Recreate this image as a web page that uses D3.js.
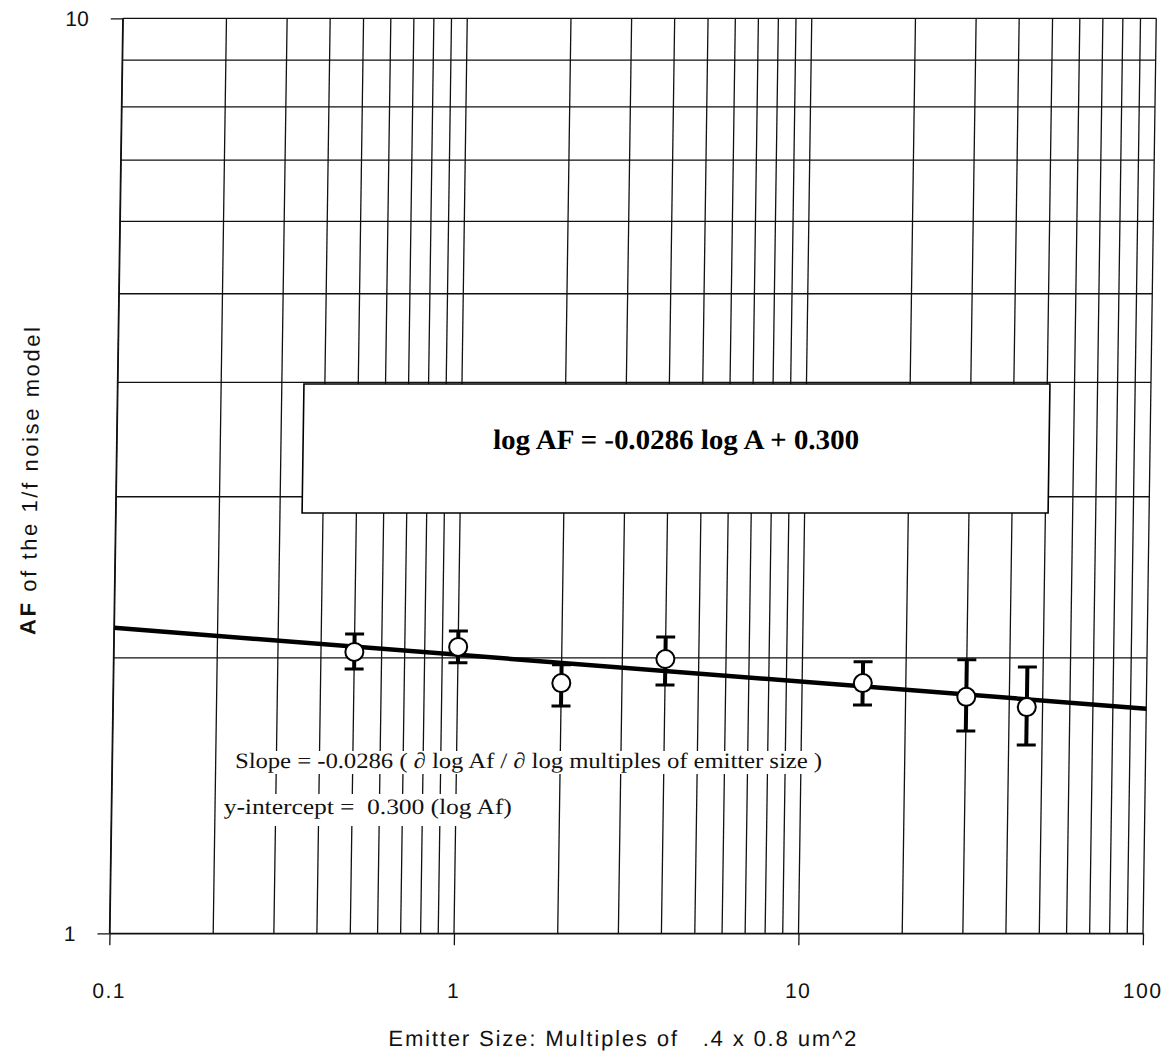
<!DOCTYPE html>
<html>
<head>
<meta charset="utf-8">
<script src="https://cdn.jsdelivr.net/npm/d3@7"></script>
<style>
  html, body { margin: 0; padding: 0; background: #fff; }
  svg { display: block; }
</style>
</head>
<body>
<svg id="chart" width="1173" height="1056"></svg>
<script>
// ---- data ----
const emitterSizes = [0.5, 1, 2, 4, 15, 30, 45];          // multiples of .4 x 0.8 um^2
const afValues     = [2.030, 2.056, 1.877, 1.994, 1.877, 1.813, 1.767];
const afHigh       = [2.124, 2.140, 1.965, 2.108, 1.980, 1.990, 1.954];
const afLow        = [1.945, 1.975, 1.772, 1.868, 1.776, 1.664, 1.606];
const trendX       = [0.1, 100];
const trendY       = [2.157, 1.760];
const xTickValues  = [0.1, 1, 10, 100];
const xTickLabels  = ["0.1", "1", "10", "100"];
const yTickValues  = [1, 10];
const yTickLabels  = ["1", "10"];
const equationText = "log AF = -0.0286 log A + 0.300";
const slopeText    = "Slope = -0.0286 ( \u2202 log Af / \u2202 log multiples of emitter size )";
const interceptText= "y-intercept =  0.300 (log Af)";
const xTitle       = "Emitter Size: Multiples of   .4 x 0.8 um^2";
const yTitleBold   = "AF";
const yTitleRest   = " of the 1/f noise model";

// ---- layout ----
const svg = d3.select("#chart");
const k = 0.0145;               // slight shear of the scanned page
const g = svg.append("g")
  .attr("transform", `translate(${k * 933},0) skewX(${-Math.atan(k) * 180 / Math.PI})`);

const x = d3.scaleLog().domain([0.1, 100]).range([109.5, 1143]);
const y = d3.scaleLog().domain([1, 10]).range([933.3, 18.3]);

const gridColor = "#111";
const gridWidth = 1.3;

// grid lines
g.append("g").selectAll("line").data(x.ticks()).join("line")
  .attr("x1", d => x(d)).attr("x2", d => x(d))
  .attr("y1", y(10)).attr("y2", y(1))
  .attr("stroke", gridColor).attr("stroke-width", gridWidth);
g.append("g").selectAll("line").data(y.ticks()).join("line")
  .attr("x1", x(0.1)).attr("x2", x(100))
  .attr("y1", d => y(d)).attr("y2", d => y(d))
  .attr("stroke", gridColor).attr("stroke-width", gridWidth);

// axes
const fmtX = d => xTickLabels[xTickValues.indexOf(d)];
const fmtY = d => yTickLabels[yTickValues.indexOf(d)];
const xAxis = g.append("g").attr("transform", `translate(0,${y(1)})`)
  .call(d3.axisBottom(x).tickValues(xTickValues).tickFormat(fmtX)
    .tickSize(12).tickSizeOuter(0).tickPadding(38));
const yAxis = g.append("g").attr("transform", `translate(${x(0.1)},0)`)
  .call(d3.axisLeft(y).tickValues(yTickValues).tickFormat(fmtY)
    .tickSize(12).tickSizeOuter(0).tickPadding(22));
[xAxis, yAxis].forEach(a => {
  a.select(".domain").attr("stroke", gridColor).attr("stroke-width", gridWidth);
  a.selectAll(".tick line").attr("stroke", gridColor).attr("stroke-width", gridWidth);
  a.selectAll(".tick text")
    .attr("fill", "#111")
    .attr("font-size", 21)
    .style("font-family", "'Liberation Sans', Arial, sans-serif")
    .style("font-size", "21px");
});
xAxis.selectAll(".tick text").style("letter-spacing", "1.5px");

// trend line
const line = d3.line().x(d => x(d[0])).y(d => y(d[1]));
g.append("path")
  .datum(trendX.map((v, i) => [v, trendY[i]]))
  .attr("d", line)
  .attr("fill", "none").attr("stroke", "#000").attr("stroke-width", 4.5);

// error bars
const pts = emitterSizes.map((s, i) => ({ s, v: afValues[i], hi: afHigh[i], lo: afLow[i] }));
const eb = g.append("g").selectAll("g").data(pts).join("g");
eb.append("line")
  .attr("x1", d => x(d.s)).attr("x2", d => x(d.s))
  .attr("y1", d => y(d.hi)).attr("y2", d => y(d.lo))
  .attr("stroke", "#000").attr("stroke-width", 4);
eb.append("line")
  .attr("x1", d => x(d.s) - 9.5).attr("x2", d => x(d.s) + 9.5)
  .attr("y1", d => y(d.hi)).attr("y2", d => y(d.hi))
  .attr("stroke", "#000").attr("stroke-width", 3);
eb.append("line")
  .attr("x1", d => x(d.s) - 9.5).attr("x2", d => x(d.s) + 9.5)
  .attr("y1", d => y(d.lo)).attr("y2", d => y(d.lo))
  .attr("stroke", "#000").attr("stroke-width", 3);
eb.append("circle")
  .attr("cx", d => x(d.s)).attr("cy", d => y(d.v)).attr("r", 9)
  .attr("fill", "#fff").attr("stroke", "#000").attr("stroke-width", 2);

// equation box
g.append("rect")
  .attr("x", 296).attr("y", 384).attr("width", 746).attr("height", 129)
  .attr("fill", "#fff").attr("stroke", "#000").attr("stroke-width", 1.6);
g.append("text")
  .attr("x", 669).attr("y", 449).attr("text-anchor", "middle")
  .attr("textLength", 366).attr("lengthAdjust", "spacingAndGlyphs")
  .style("font-family", "'Liberation Serif', 'Times New Roman', serif")
  .style("font-weight", "bold").style("font-size", "28px")
  .text(equationText);

// annotation texts with white background
g.append("rect").attr("x", 231).attr("y", 751).attr("width", 590).attr("height", 23).attr("fill", "#fff");
g.append("rect").attr("x", 220).attr("y", 794).attr("width", 291).attr("height", 32).attr("fill", "#fff");
g.append("text")
  .attr("x", 232.6).attr("y", 768)
  .attr("textLength", 587).attr("lengthAdjust", "spacingAndGlyphs")
  .style("font-family", "'Liberation Serif', 'Times New Roman', serif")
  .style("font-size", "22px").style("white-space", "pre").attr("fill", "#111")
  .text(slopeText);
g.append("text")
  .attr("x", 222).attr("y", 814)
  .attr("textLength", 288).attr("lengthAdjust", "spacingAndGlyphs")
  .style("font-family", "'Liberation Serif', 'Times New Roman', serif")
  .style("font-size", "22px").style("white-space", "pre").attr("fill", "#111")
  .text(interceptText);

// axis titles
g.append("text")
  .attr("x", 390).attr("y", 1046)
  .attr("textLength", 468)
  .style("font-family", "'Liberation Sans', Arial, sans-serif")
  .style("font-size", "22px").style("white-space", "pre").attr("fill", "#111")
  .text(xTitle);

const yt = g.append("text")
  .attr("transform", "translate(31,481) rotate(-90)")
  .attr("text-anchor", "middle")
  .attr("textLength", 308)
  .style("font-family", "'Liberation Sans', Arial, sans-serif")
  .style("font-size", "22px").attr("fill", "#111");
yt.append("tspan").style("font-weight", "bold").text(yTitleBold);
yt.append("tspan").text(yTitleRest);
</script>
</body>
</html>
